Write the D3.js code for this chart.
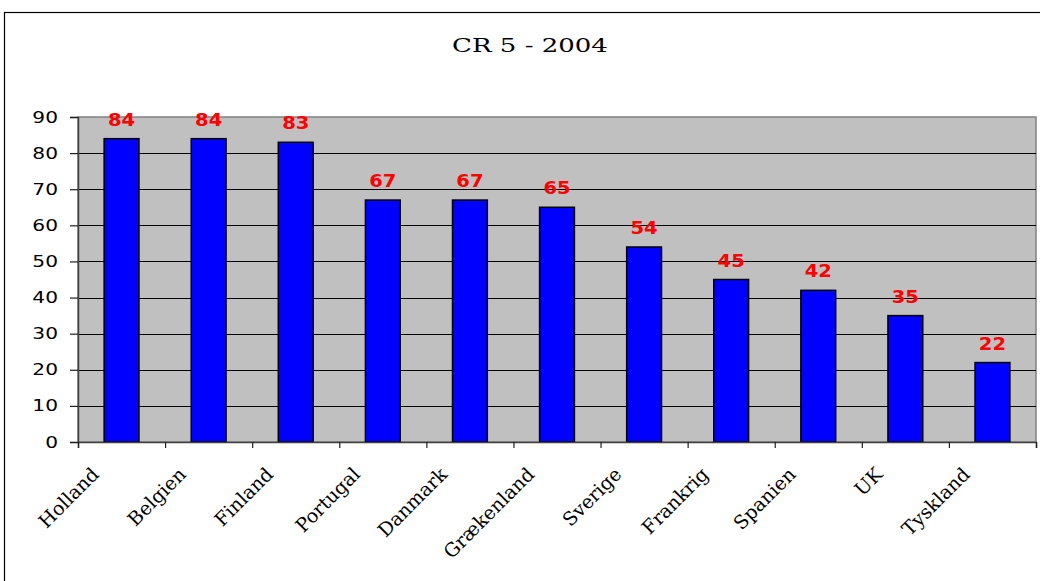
<!DOCTYPE html>
<html>
<head>
<meta charset="utf-8">
<script src="https://cdn.jsdelivr.net/npm/d3@7"></script>
<style>
  html, body { margin: 0; padding: 0; background: #fff; }
  svg { display: block; }
</style>
</head>
<body>
<svg id="chart" width="1040" height="581"></svg>
<script>
const categories = ["Holland", "Belgien", "Finland", "Portugal", "Danmark", "Grækenland",
                    "Sverige", "Frankrig", "Spanien", "UK", "Tyskland"];
const values = [84, 84, 83, 67, 67, 65, 54, 45, 42, 35, 22];
const yTicks = [0, 10, 20, 30, 40, 50, 60, 70, 80, 90];
const title = "CR 5 - 2004";

const svg = d3.select("#chart");
const plot = { left: 78, right: 1036, top: 117, bottom: 442 };

// Outer chart frame (runs off the right and bottom edges)
svg.append("rect")
  .attr("x", 4.5).attr("y", 12.5)
  .attr("width", 1100).attr("height", 700)
  .attr("fill", "#fff").attr("stroke", "#000").attr("stroke-width", 1.2);

// Title, drawn in a widened serif face
svg.append("text")
  .attr("transform", "translate(530,52) scale(1.37,1)")
  .attr("text-anchor", "middle")
  .attr("font-family", "DejaVu Serif, serif")
  .attr("font-size", 19)
  .text(title);

const x = d3.scaleBand().domain(categories)
  .range([plot.left, plot.right]).paddingInner(0.6).paddingOuter(0.3);
const y = d3.scaleLinear().domain([0, 90]).range([plot.bottom, plot.top]);

// Plot area background
svg.append("rect")
  .attr("x", plot.left).attr("y", plot.top)
  .attr("width", plot.right - plot.left).attr("height", plot.bottom - plot.top)
  .attr("fill", "#c0c0c0").attr("stroke", "#808080").attr("stroke-width", 1.5);

// Horizontal gridlines
svg.append("g").selectAll("line")
  .data(yTicks.filter(d => d > 0 && d < 90))
  .join("line")
  .attr("x1", plot.left).attr("x2", plot.right)
  .attr("y1", d => Math.round(y(d)) + 0.5).attr("y2", d => Math.round(y(d)) + 0.5)
  .attr("stroke", "#000").attr("stroke-width", 1);

// Bars
svg.append("g").selectAll("rect")
  .data(values)
  .join("rect")
  .attr("x", (d, i) => x(categories[i]))
  .attr("y", d => y(d))
  .attr("width", x.bandwidth())
  .attr("height", d => y(0) - y(d))
  .attr("fill", "#0000ff").attr("stroke", "#000").attr("stroke-width", 1.5);

// Value labels
svg.append("g").selectAll("text")
  .data(values)
  .join("text")
  .attr("transform", (d, i) =>
    `translate(${x(categories[i]) + x.bandwidth() / 2},${y(d) - 13}) scale(1.15,1)`)
  .attr("text-anchor", "middle")
  .attr("font-family", "DejaVu Sans, Verdana, sans-serif")
  .attr("font-weight", "bold")
  .attr("font-size", 17)
  .attr("fill", "#ff0000")
  .text(d => d);

// Y axis line and ticks
svg.append("g")
  .attr("transform", `translate(${plot.left},0)`)
  .call(d3.axisLeft(y).tickValues(yTicks).tickSize(8).tickFormat(""))
  .call(g => g.select(".domain").attr("stroke", "#404040").attr("stroke-width", 1.5))
  .call(g => g.selectAll(".tick line").attr("stroke", "#202020").attr("stroke-width", 1.2));

// Y tick labels, widened sans
svg.append("g").selectAll("text")
  .data(yTicks)
  .join("text")
  .attr("transform", d => `translate(58,${y(d)}) scale(1.3,1)`)
  .attr("text-anchor", "end")
  .attr("dy", "0.36em")
  .attr("font-family", "DejaVu Sans, Verdana, sans-serif")
  .attr("font-size", 15.5)
  .attr("fill", "#000")
  .text(d => d);

// X axis: ticks fall on band boundaries
const xb = d3.scaleLinear().domain([0, categories.length]).range([plot.left, plot.right]);
svg.append("g")
  .attr("transform", `translate(0,${plot.bottom})`)
  .call(d3.axisBottom(xb).tickValues(d3.range(categories.length + 1))
    .tickSize(6).tickFormat(""))
  .call(g => g.select(".domain").attr("stroke", "#404040").attr("stroke-width", 1.5))
  .call(g => g.selectAll(".tick line").attr("stroke", "#202020").attr("stroke-width", 1.2));

// Rotated category labels
svg.append("g").selectAll("text")
  .data(categories)
  .join("text")
  .attr("transform", d => `translate(${x(d) + x.bandwidth() / 2 - 25},${plot.bottom + 30}) rotate(-45)`)
  .attr("text-anchor", "end")
  .attr("dominant-baseline", "middle")
  .attr("font-family", "DejaVu Serif, serif")
  .attr("font-size", 19)
  .attr("fill", "#000")
  .text(d => d);
</script>
</body>
</html>
